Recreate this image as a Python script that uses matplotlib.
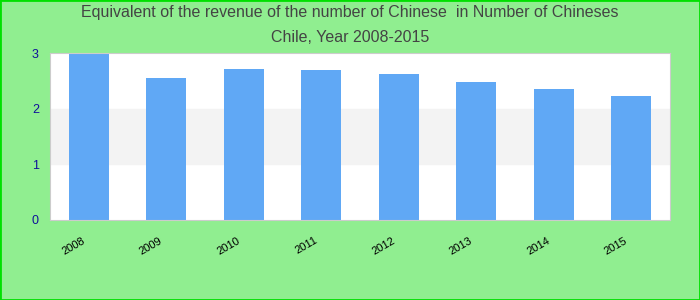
import matplotlib.pyplot as plt
import matplotlib.transforms as mtransforms
from matplotlib.patches import Rectangle

years = ['2008', '2009', '2010', '2011', '2012', '2013', '2014', '2015']
values = [3.0, 2.55, 2.71, 2.69, 2.62, 2.48, 2.36, 2.23]

plt.rcParams['font.family'] = ['Liberation Sans', 'DejaVu Sans']

fig = plt.figure(figsize=(7, 3), dpi=100, facecolor='#90ee90')
ax = fig.add_axes([50 / 700, 1 - 220 / 300, 620 / 700, 167 / 300])
ax.set_facecolor('white')

# grey band between 1 and 2
ax.axhspan(1, 2, color='#f3f3f3', zorder=0)

x = range(len(years))
ax.bar(x, values, width=0.52, color='#60a8f5', zorder=2)

ax.set_xlim(-0.5, len(years) - 0.5)
ax.set_ylim(0, 3)
ax.set_yticks([0, 1, 2, 3])
ax.set_xticks(list(x))
ax.set_xticklabels(years, rotation=30, ha='right', rotation_mode='anchor',
                   fontsize=8, color='black')
ax.tick_params(axis='y', labelcolor='#10109a', labelsize=9, length=0, pad=8)
ax.tick_params(axis='x', length=0, pad=11)
# move the year labels a little to the left
shift = mtransforms.ScaledTranslation(-7 / 100, 0, fig.dpi_scale_trans)
for lab in ax.get_xticklabels():
    lab.set_transform(lab.get_transform() + shift)
for s in ax.spines.values():
    s.set_color('#cccccc')

fig.text(0.5, 1 - 13 / 300, 'Equivalent of the revenue of the number of Chinese  in Number of Chineses',
         ha='center', va='center', fontsize=11.5, color='#444444')
fig.text(0.5, 1 - 37 / 300, 'Chile, Year 2008-2015',
         ha='center', va='center', fontsize=11.5, color='#444444')

# bright green frame round the figure
fig.patches.append(Rectangle((0, 0), 1, 1, transform=fig.transFigure, fill=False,
                             edgecolor='#00e000', linewidth=2))

fig.savefig('out.png', dpi=100, facecolor=fig.get_facecolor())
